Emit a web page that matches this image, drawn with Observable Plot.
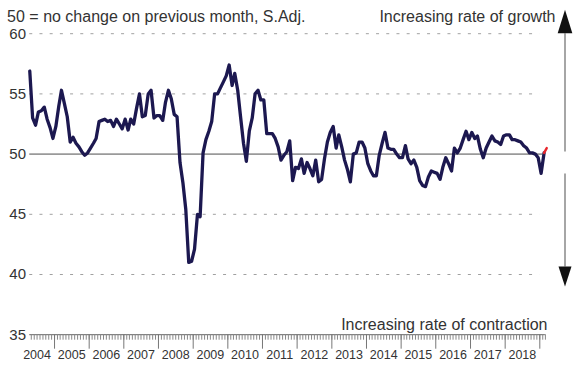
<!DOCTYPE html>
<html>
<head>
<meta charset="utf-8">
<script src="https://cdn.jsdelivr.net/npm/d3@7"></script>
<script src="https://cdn.jsdelivr.net/npm/@observablehq/plot@0.6"></script>
<style>
  html, body { margin: 0; padding: 0; background: #fff; }
  #chart svg { display: block; }
</style>
</head>
<body>
<div id="chart"></div>
<script>
// ---- Data (monthly index, seasonally adjusted; series starts April 2004) ----
const seriesStart = { year: 2004, month: 3 }; // April 2004 (0-based month)
const pmi2004 = [56.9, 53.0, 52.4, 53.5, 53.6, 53.9, 52.9, 52.2, 51.3];
const pmi2005 = [52.3, 54.0, 55.3, 54.2, 53.1, 51.0, 51.4, 50.9, 50.6, 50.2, 49.9, 50.1];
const pmi2006 = [50.5, 50.9, 51.3, 52.7, 52.8, 52.9, 52.7, 52.8, 52.3, 52.9, 52.5, 52.1];
const pmi2007 = [52.9, 52.0, 52.9, 52.5, 53.8, 55.0, 53.1, 53.2, 55.0, 55.3, 53.0, 53.2];
const pmi2008 = [53.2, 52.8, 54.3, 55.3, 54.6, 53.3, 53.1, 49.3, 47.6, 45.4, 41.0, 41.1];
const pmi2009 = [42.1, 45.0, 44.8, 50.1, 51.2, 51.9, 52.7, 55.0, 55.0, 55.5, 56.0, 56.5];
const pmi2010 = [57.4, 55.7, 56.7, 55.3, 53.1, 50.9, 49.4, 51.9, 53.0, 55.0, 55.3, 54.5];
const pmi2011 = [54.5, 51.7, 51.7, 51.7, 51.3, 50.6, 49.5, 49.9, 50.2, 51.1, 47.8, 48.9];
const pmi2012 = [48.8, 49.6, 48.4, 49.3, 48.8, 48.2, 49.5, 47.7, 47.9, 49.6, 51.0, 51.8];
const pmi2013 = [52.3, 50.5, 51.6, 50.6, 49.5, 48.7, 47.7, 50.0, 50.1, 51.0, 51.0, 50.5];
const pmi2014 = [49.2, 48.6, 48.2, 48.2, 49.9, 50.9, 51.8, 50.5, 50.4, 50.4, 50.0, 49.7];
const pmi2015 = [49.7, 50.7, 49.6, 49.2, 49.5, 48.9, 47.8, 47.4, 47.3, 48.1, 48.6, 48.5];
const pmi2016 = [48.4, 47.9, 48.9, 49.7, 49.2, 48.6, 50.5, 50.1, 50.5, 51.2, 51.9, 51.2];
const pmi2017 = [51.8, 51.3, 51.5, 50.4, 49.7, 50.5, 51.0, 51.5, 51.1, 51.0, 50.8, 51.5];
const pmi2018 = [51.6, 51.6, 51.2, 51.2, 51.1, 51.0, 50.7, 50.5, 50.1, 50.1, 50.0, 49.7];
const pmi2019 = [48.4, 50.1, 50.5];

const yTickValues = [35, 40, 45, 50, 55, 60];
const dashedGridValues = [40, 45, 55, 60];
const noChangeValue = 50;
const yearLabels = ["2004","2005","2006","2007","2008","2009","2010","2011","2012","2013","2014","2015","2016","2017","2018"];
const titleText = "50 = no change on previous month, S.Adj.";
const growthText = "Increasing rate of growth";
const contractionText = "Increasing rate of contraction";

// ---- Build table ----
const allValues = [].concat(pmi2004, pmi2005, pmi2006, pmi2007, pmi2008, pmi2009, pmi2010,
  pmi2011, pmi2012, pmi2013, pmi2014, pmi2015, pmi2016, pmi2017, pmi2018, pmi2019);
const data = allValues.map((v, i) => ({
  date: new Date(Date.UTC(seriesStart.year, seriesStart.month + i, 15)),
  value: v
}));
const firstDate = data[0].date;

const monthTicks = d3.utcMonths(new Date(Date.UTC(2004, 4, 1)), new Date(Date.UTC(2019, 2, 2)));
const yearTicks = d3.utcYears(new Date(Date.UTC(2005, 0, 1)), new Date(Date.UTC(2019, 0, 2)));

const W = 576, H = 370;
const font = "'Liberation Sans', Arial, Helvetica, sans-serif";
const textColor = "#333";

const plot = Plot.plot({
  width: W,
  height: H,
  marginTop: 0,
  marginLeft: 0,
  marginRight: 0,
  marginBottom: 35.8,
  style: { fontFamily: font, background: "#fff", overflow: "visible" },
  x: { type: "utc", domain: [new Date(Date.UTC(2004, 0, 1)), new Date(Date.UTC(2019, 0, 1))], range: [19.3, 539.3], axis: null },
  y: { domain: [35, 60], range: [334.2, 33.2], axis: null },
  marks: [
    // dashed gridlines
    Plot.ruleY(dashedGridValues, { x1: firstDate, x2: new Date(Date.UTC(2019, 0, 1)), stroke: "#a0a0a0", strokeWidth: 1, strokeDasharray: "3,7.2" }),
    // 50 line
    Plot.ruleY([noChangeValue], { x1: firstDate, x2: new Date(Date.UTC(2019, 1, 1)), stroke: "#9a9a9a", strokeWidth: 1.6 }),
    // x axis baseline
    Plot.ruleY([35], { x1: firstDate, x2: new Date(Date.UTC(2019, 2, 1)), stroke: "#666", strokeWidth: 1 }),
    Plot.axisX({ ticks: monthTicks, tickSize: 5.5, tickFormat: () => "", stroke: "#888", label: null }),
    Plot.axisX({ ticks: yearTicks, tickSize: 14.5, tickFormat: () => "", stroke: "#777", label: null }),
    // year labels
    Plot.text(yearLabels, { x: d => new Date(Date.UTC(+d, 6, 1)), text: d => d, frameAnchor: "bottom", lineAnchor: "bottom", dy: 23.8, fontSize: 12.5, fill: textColor }),
    // y labels
    Plot.text(yTickValues, { y: d => d, text: d => String(d), frameAnchor: "left", dx: 25.5, textAnchor: "end", lineAnchor: "middle", fontSize: 15, fill: textColor }),
    // series
    Plot.line(data.slice(0, -1), { x: "date", y: "value", stroke: "#1c1850", strokeWidth: 3.3, strokeLinejoin: "round", strokeLinecap: "round" }),
    Plot.line(data.slice(-2), { x: "date", y: "value", stroke: "#e8262c", strokeWidth: 2.4, strokeLinecap: "round" }),
    // annotations
    Plot.text([titleText], { frameAnchor: "top-left", dx: 6.6, dy: 21, textAnchor: "start", lineAnchor: "bottom", fontSize: 16, fill: textColor, letterSpacing: 0.55 }),
    Plot.text([growthText], { frameAnchor: "top-right", dx: -21, dy: 21, textAnchor: "end", lineAnchor: "bottom", fontSize: 16, fill: textColor }),
    Plot.text([contractionText], { frameAnchor: "bottom-right", dx: -29, dy: -5, textAnchor: "end", lineAnchor: "bottom", fontSize: 16, fill: textColor })
  ]
});

// ---- Direction arrows on the right ----
const ys = plot.scale("y");
const svg = d3.select(plot);
const ax = W - 11;
const y60 = ys.apply(60), y50 = ys.apply(noChangeValue), y40 = ys.apply(40);
const g = svg.append("g");
// up arrow
g.append("line").attr("x1", ax).attr("x2", ax).attr("y1", y60).attr("y2", y50 - 2)
  .attr("stroke", "#888").attr("stroke-width", 1.5);
g.append("path").attr("d", `M${ax},${y60 - 23.5} L${ax - 7.3},${y60} L${ax + 7.3},${y60} Z`).attr("fill", "#111");
// down arrow
g.append("line").attr("x1", ax).attr("x2", ax).attr("y1", y50 + 20).attr("y2", y40 - 7.5)
  .attr("stroke", "#888").attr("stroke-width", 1.5);
g.append("path").attr("d", `M${ax},${y40 + 12.5} L${ax - 6.5},${y40 - 7.5} L${ax + 6.5},${y40 - 7.5} Z`).attr("fill", "#111");

document.getElementById("chart").appendChild(plot);
</script>
</body>
</html>
